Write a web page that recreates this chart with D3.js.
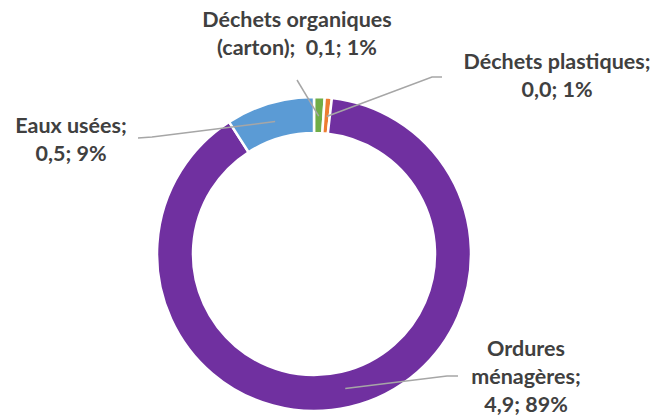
<!DOCTYPE html>
<html>
<head>
<meta charset="utf-8">
<script src="https://cdn.jsdelivr.net/npm/d3@7"></script>
<style>
  body { margin: 0; background: #fff; }
  svg { display: block; }
</style>
</head>
<body>
<svg id="chart" width="658" height="417"></svg>
<script>
const categories = ["Déchets organiques (carton)", "Déchets plastiques", "Ordures ménagères", "Eaux usées"];
const values = [0.06, 0.04, 4.9, 0.5];
const colors = ["#70AD47", "#ED7D31", "#7030A0", "#5B9BD5"];

const W = 658, H = 417;
const cx = 314, cy = 254;
const outerR = 157, innerR = 121;

// label boxes, same order as the slices: text centre, first baseline, leader line elbow and end
const labelLayout = [
  { tx: 297, ty: 27, elbow: null, end: [297, 80], lines: (n, v, p) => ["Déchets organiques", `(carton);  ${v}; ${p}`] },
  { tx: 557, ty: 69, elbow: [432, 77], end: [442, 77], lines: (n, v, p) => [`${n};`, `${v}; ${p}`] },
  { tx: 526, ty: 356, elbow: [447, 376], end: [458, 376], lines: (n, v, p) => ["Ordures", "ménagères;", `${v}; ${p}`] },
  { tx: 71, ty: 133, elbow: [152, 137], end: [138, 138], lines: (n, v, p) => [`${n};`, `${v}; ${p}`] },
];

const svg = d3.select("#chart");
const total = d3.sum(values);
const fmtVal = v => d3.format(".1f")(v).replace(".", ",");
const fmtPct = v => Math.round(v / total * 100) + "%";

const pie = d3.pie().sort(null).value(d => d).startAngle(0).endAngle(2 * Math.PI);
const arcs = pie(values);
const arc = d3.arc().innerRadius(innerR).outerRadius(outerR);
const midR = (innerR + outerR) / 2 - 1;
const midArc = d3.arc().innerRadius(midR).outerRadius(midR);

const g = svg.append("g").attr("transform", `translate(${cx},${cy})`);

g.selectAll("path.slice")
  .data(arcs)
  .join("path")
  .attr("class", "slice")
  .attr("d", arc)
  .attr("fill", (d, i) => colors[i])
  .attr("stroke", "#fff")
  .attr("stroke-width", 2.5);

// leader lines
svg.append("g")
  .selectAll("polyline")
  .data(arcs)
  .join("polyline")
  .attr("fill", "none")
  .attr("stroke", "#A6A6A6")
  .attr("stroke-width", 1.5)
  .attr("points", (d, i) => {
    const c = midArc.centroid(d);
    const pts = [[cx + c[0], cy + c[1]]];
    const L = labelLayout[i];
    if (L.elbow) pts.push(L.elbow);
    pts.push(L.end);
    return pts.map(p => p.join(",")).join(" ");
  });

// labels
const lineH = 28;
svg.append("g")
  .selectAll("text")
  .data(arcs)
  .join("text")
  .attr("text-anchor", "middle")
  .attr("font-family", "Lato, 'Open Sans', sans-serif")
  .attr("font-weight", "bold")
  .attr("font-size", 21.5)
  .attr("fill", "#404040")
  .each(function (d, i) {
    const L = labelLayout[i];
    const lines = L.lines(categories[i], fmtVal(values[i]), fmtPct(values[i]));
    d3.select(this).selectAll("tspan")
      .data(lines)
      .join("tspan")
      .attr("x", L.tx)
      .attr("y", (t, j) => L.ty + j * lineH)
      .attr("xml:space", "preserve")
      .text(t => t);
  });
</script>
</body>
</html>
